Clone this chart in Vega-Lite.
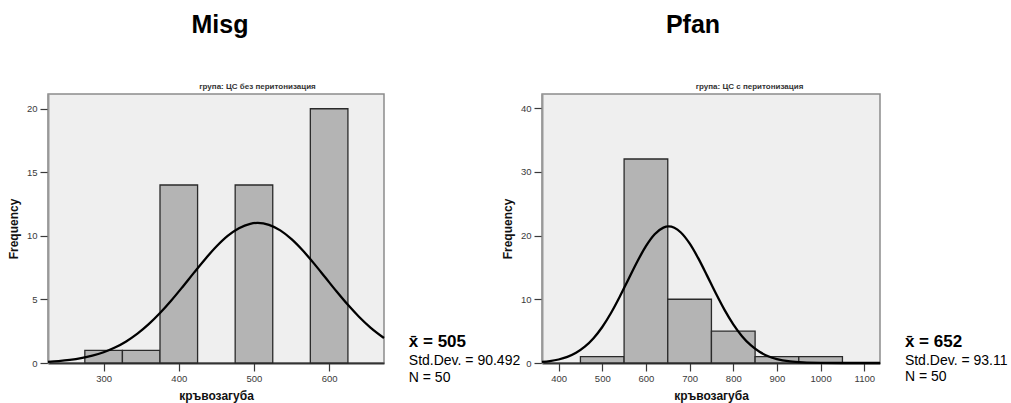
{
  "$schema": "https://vega.github.io/schema/vega-lite/v6.json",
  "background": "white",
  "padding": {"left": 6, "top": 12, "right": 0, "bottom": 0},
  "bounds": "flush",
  "spacing": 158,
  "datasets": {
    "bars": [
      {"group": "Misg", "bin_start": 275, "bin_end": 325, "count": 1},
      {"group": "Misg", "bin_start": 325, "bin_end": 375, "count": 1},
      {"group": "Misg", "bin_start": 375, "bin_end": 425, "count": 14},
      {"group": "Misg", "bin_start": 475, "bin_end": 525, "count": 14},
      {"group": "Misg", "bin_start": 575, "bin_end": 625, "count": 20},
      {"group": "Pfan", "bin_start": 450, "bin_end": 550, "count": 1},
      {"group": "Pfan", "bin_start": 550, "bin_end": 650, "count": 32},
      {"group": "Pfan", "bin_start": 650, "bin_end": 750, "count": 10},
      {"group": "Pfan", "bin_start": 750, "bin_end": 850, "count": 5},
      {"group": "Pfan", "bin_start": 850, "bin_end": 950, "count": 1},
      {"group": "Pfan", "bin_start": 950, "bin_end": 1050, "count": 1}
    ],
    "curve": [
      {"group": "Misg", "x": 226, "density": 0.095},
      {"group": "Misg", "x": 240, "density": 0.151},
      {"group": "Misg", "x": 255, "density": 0.242},
      {"group": "Misg", "x": 270, "density": 0.378},
      {"group": "Misg", "x": 285, "density": 0.574},
      {"group": "Misg", "x": 300, "density": 0.847},
      {"group": "Misg", "x": 315, "density": 1.216},
      {"group": "Misg", "x": 330, "density": 1.698},
      {"group": "Misg", "x": 345, "density": 2.309},
      {"group": "Misg", "x": 360, "density": 3.053},
      {"group": "Misg", "x": 375, "density": 3.927},
      {"group": "Misg", "x": 390, "density": 4.914},
      {"group": "Misg", "x": 405, "density": 5.984},
      {"group": "Misg", "x": 420, "density": 7.089},
      {"group": "Misg", "x": 435, "density": 8.17},
      {"group": "Misg", "x": 450, "density": 9.161},
      {"group": "Misg", "x": 465, "density": 9.994},
      {"group": "Misg", "x": 480, "density": 10.607},
      {"group": "Misg", "x": 495, "density": 10.953},
      {"group": "Misg", "x": 505, "density": 11.02},
      {"group": "Misg", "x": 520, "density": 10.87},
      {"group": "Misg", "x": 535, "density": 10.431},
      {"group": "Misg", "x": 550, "density": 9.739},
      {"group": "Misg", "x": 565, "density": 8.846},
      {"group": "Misg", "x": 580, "density": 7.817},
      {"group": "Misg", "x": 595, "density": 6.72},
      {"group": "Misg", "x": 610, "density": 5.622},
      {"group": "Misg", "x": 625, "density": 4.574},
      {"group": "Misg", "x": 640, "density": 3.621},
      {"group": "Misg", "x": 655, "density": 2.789},
      {"group": "Misg", "x": 673, "density": 1.967},
      {"group": "Pfan", "x": 362, "density": 0.168},
      {"group": "Pfan", "x": 380, "density": 0.3},
      {"group": "Pfan", "x": 400, "density": 0.55},
      {"group": "Pfan", "x": 420, "density": 0.961},
      {"group": "Pfan", "x": 440, "density": 1.603},
      {"group": "Pfan", "x": 460, "density": 2.555},
      {"group": "Pfan", "x": 480, "density": 3.89},
      {"group": "Pfan", "x": 500, "density": 5.651},
      {"group": "Pfan", "x": 520, "density": 7.84},
      {"group": "Pfan", "x": 540, "density": 10.391},
      {"group": "Pfan", "x": 560, "density": 13.148},
      {"group": "Pfan", "x": 580, "density": 15.885},
      {"group": "Pfan", "x": 600, "density": 18.327},
      {"group": "Pfan", "x": 620, "density": 20.193},
      {"group": "Pfan", "x": 640, "density": 21.243},
      {"group": "Pfan", "x": 652, "density": 21.42},
      {"group": "Pfan", "x": 665, "density": 21.212},
      {"group": "Pfan", "x": 680, "density": 20.473},
      {"group": "Pfan", "x": 700, "density": 18.753},
      {"group": "Pfan", "x": 720, "density": 16.406},
      {"group": "Pfan", "x": 740, "density": 13.705},
      {"group": "Pfan", "x": 760, "density": 10.931},
      {"group": "Pfan", "x": 780, "density": 8.326},
      {"group": "Pfan", "x": 800, "density": 6.057},
      {"group": "Pfan", "x": 820, "density": 4.207},
      {"group": "Pfan", "x": 840, "density": 2.789},
      {"group": "Pfan", "x": 860, "density": 1.767},
      {"group": "Pfan", "x": 880, "density": 1.068},
      {"group": "Pfan", "x": 900, "density": 0.617},
      {"group": "Pfan", "x": 930, "density": 0.248},
      {"group": "Pfan", "x": 960, "density": 0.09},
      {"group": "Pfan", "x": 1000, "density": 0.02},
      {"group": "Pfan", "x": 1050, "density": 0.001},
      {"group": "Pfan", "x": 1100, "density": 0},
      {"group": "Pfan", "x": 1136, "density": 0}
    ],
    "stats": [
      {"group": "Misg", "mean": "x̄ = 505", "sd": "Std.Dev. = 90.492", "n": "N = 50"},
      {"group": "Pfan", "mean": "x̄ = 652", "sd": "Std.Dev. = 93.11", "n": "N = 50"}
    ]
  },
  "config": {
    "font": "Liberation Sans",
    "view": {"fill": "#efefef", "stroke": "#8c8c8c", "strokeWidth": 1.5},
    "axis": {
      "grid": false,
      "labelFont": "Liberation Sans",
      "labelFontSize": 9.5,
      "labelColor": "#3a3a3a",
      "tickColor": "#3a3a3a",
      "tickSize": 8,
      "tickWidth": 1.2,
      "titleFont": "Liberation Sans",
      "titleFontWeight": "bold",
      "titleFontSize": 12,
      "titleColor": "#111111",
      "format": "d"
    },
    "axisY": {"domainColor": "#999999", "domainWidth": 2, "labelPadding": 3, "titlePadding": 6},
    "axisX": {"domainColor": "#333333", "domainWidth": 2, "labelPadding": 2, "titlePadding": 8},
    "title": {"font": "Liberation Sans", "fontSize": 25, "fontWeight": "bold", "color": "#000000", "anchor": "middle"}
  },
  "hconcat": [
    {
      "width": 336,
      "height": 269,
      "title": {"text": "Misg", "dx": 4, "offset": 44},
      "layer": [
        {
          "data": {"name": "bars"},
          "transform": [{"filter": "datum.group === 'Misg'"}],
          "mark": {"type": "rect", "fill": "#b4b4b4", "stroke": "#2a2a2a", "strokeWidth": 1.3},
          "encoding": {
            "x": {"field": "bin_start", "type": "quantitative", "scale": {"domain": [226, 673], "nice": false, "zero": false}, "axis": {"orient": "bottom", "title": "кръвозагуба", "values": [300, 400, 500, 600]}},
            "x2": {"field": "bin_end"},
            "y": {"field": "count", "type": "quantitative", "scale": {"domain": [0, 21.16], "nice": false}, "axis": {"orient": "left", "title": "Frequency", "values": [0, 5, 10, 15, 20]}},
            "y2": {"datum": 0}
          }
        },
        {
          "data": {"name": "curve"},
          "transform": [{"filter": "datum.group === 'Misg'"}],
          "mark": {"type": "line", "color": "#000000", "strokeWidth": 2.3, "interpolate": "monotone"},
          "encoding": {
            "x": {"field": "x", "type": "quantitative", "scale": {"domain": [226, 673], "nice": false, "zero": false}, "axis": {"orient": "top", "title": "група: ЦС без перитонизация", "labels": false, "ticks": false, "domain": false, "titleFontSize": 8, "titleColor": "#333333", "titleX": 209, "titleAlign": "center", "titlePadding": 4}},
            "y": {"field": "density", "type": "quantitative", "scale": {"domain": [0, 21.16], "nice": false}, "axis": {"orient": "left", "title": "Frequency", "values": [0, 5, 10, 15, 20]}}
          }
        },
        {
          "data": {"name": "stats"},
          "transform": [{"filter": "datum.group === 'Misg'"}],
          "mark": {"type": "text", "align": "left", "baseline": "alphabetic", "fontSize": 17, "fontWeight": "bold", "color": "#000000"},
          "encoding": {
            "x": {"datum": 706, "type": "quantitative", "scale": {"domain": [226, 673], "nice": false, "zero": false}, "axis": null},
            "y": {"datum": 1.22, "type": "quantitative", "scale": {"domain": [0, 21.16], "nice": false}, "axis": {"orient": "left", "title": "Frequency", "values": [0, 5, 10, 15, 20]}},
            "text": {"field": "mean"}
          }
        },
        {
          "data": {"name": "stats"},
          "transform": [{"filter": "datum.group === 'Misg'"}],
          "mark": {"type": "text", "align": "left", "baseline": "alphabetic", "fontSize": 14, "color": "#000000"},
          "encoding": {
            "x": {"datum": 706, "type": "quantitative", "scale": {"domain": [226, 673], "nice": false, "zero": false}, "axis": null},
            "y": {"datum": -0.16, "type": "quantitative", "scale": {"domain": [0, 21.16], "nice": false}, "axis": {"orient": "left", "title": "Frequency", "values": [0, 5, 10, 15, 20]}},
            "text": {"field": "sd"}
          }
        },
        {
          "data": {"name": "stats"},
          "transform": [{"filter": "datum.group === 'Misg'"}],
          "mark": {"type": "text", "align": "left", "baseline": "alphabetic", "fontSize": 14, "color": "#000000"},
          "encoding": {
            "x": {"datum": 706, "type": "quantitative", "scale": {"domain": [226, 673], "nice": false, "zero": false}, "axis": null},
            "y": {"datum": -1.46, "type": "quantitative", "scale": {"domain": [0, 21.16], "nice": false}, "axis": {"orient": "left", "title": "Frequency", "values": [0, 5, 10, 15, 20]}},
            "text": {"field": "n"}
          }
        }
      ]
    },
    {
      "width": 338,
      "height": 269,
      "title": {"text": "Pfan", "dx": -18, "offset": 44},
      "layer": [
        {
          "data": {"name": "bars"},
          "transform": [{"filter": "datum.group === 'Pfan'"}],
          "mark": {"type": "rect", "fill": "#b4b4b4", "stroke": "#2a2a2a", "strokeWidth": 1.3},
          "encoding": {
            "x": {"field": "bin_start", "type": "quantitative", "scale": {"domain": [362, 1136], "nice": false, "zero": false}, "axis": {"orient": "bottom", "title": "кръвозагуба", "values": [400, 500, 600, 700, 800, 900, 1000, 1100]}},
            "x2": {"field": "bin_end"},
            "y": {"field": "count", "type": "quantitative", "scale": {"domain": [0, 42.2], "nice": false}, "axis": {"orient": "left", "title": "Frequency", "values": [0, 10, 20, 30, 40]}},
            "y2": {"datum": 0}
          }
        },
        {
          "data": {"name": "curve"},
          "transform": [{"filter": "datum.group === 'Pfan'"}],
          "mark": {"type": "line", "color": "#000000", "strokeWidth": 2.3, "interpolate": "monotone"},
          "encoding": {
            "x": {"field": "x", "type": "quantitative", "scale": {"domain": [362, 1136], "nice": false, "zero": false}, "axis": {"orient": "top", "title": "група: ЦС с перитонизация", "labels": false, "ticks": false, "domain": false, "titleFontSize": 8, "titleColor": "#333333", "titleX": 207, "titleAlign": "center", "titlePadding": 4}},
            "y": {"field": "density", "type": "quantitative", "scale": {"domain": [0, 42.2], "nice": false}, "axis": {"orient": "left", "title": "Frequency", "values": [0, 10, 20, 30, 40]}}
          }
        },
        {
          "data": {"name": "stats"},
          "transform": [{"filter": "datum.group === 'Pfan'"}],
          "mark": {"type": "text", "align": "left", "baseline": "alphabetic", "fontSize": 17, "fontWeight": "bold", "color": "#000000"},
          "encoding": {
            "x": {"datum": 1193, "type": "quantitative", "scale": {"domain": [362, 1136], "nice": false, "zero": false}, "axis": null},
            "y": {"datum": 2.5, "type": "quantitative", "scale": {"domain": [0, 42.2], "nice": false}, "axis": {"orient": "left", "title": "Frequency", "values": [0, 10, 20, 30, 40]}},
            "text": {"field": "mean"}
          }
        },
        {
          "data": {"name": "stats"},
          "transform": [{"filter": "datum.group === 'Pfan'"}],
          "mark": {"type": "text", "align": "left", "baseline": "alphabetic", "fontSize": 14, "color": "#000000"},
          "encoding": {
            "x": {"datum": 1193, "type": "quantitative", "scale": {"domain": [362, 1136], "nice": false, "zero": false}, "axis": null},
            "y": {"datum": -0.36, "type": "quantitative", "scale": {"domain": [0, 42.2], "nice": false}, "axis": {"orient": "left", "title": "Frequency", "values": [0, 10, 20, 30, 40]}},
            "text": {"field": "sd"}
          }
        },
        {
          "data": {"name": "stats"},
          "transform": [{"filter": "datum.group === 'Pfan'"}],
          "mark": {"type": "text", "align": "left", "baseline": "alphabetic", "fontSize": 14, "color": "#000000"},
          "encoding": {
            "x": {"datum": 1193, "type": "quantitative", "scale": {"domain": [362, 1136], "nice": false, "zero": false}, "axis": null},
            "y": {"datum": -2.85, "type": "quantitative", "scale": {"domain": [0, 42.2], "nice": false}, "axis": {"orient": "left", "title": "Frequency", "values": [0, 10, 20, 30, 40]}},
            "text": {"field": "n"}
          }
        }
      ]
    }
  ]
}
